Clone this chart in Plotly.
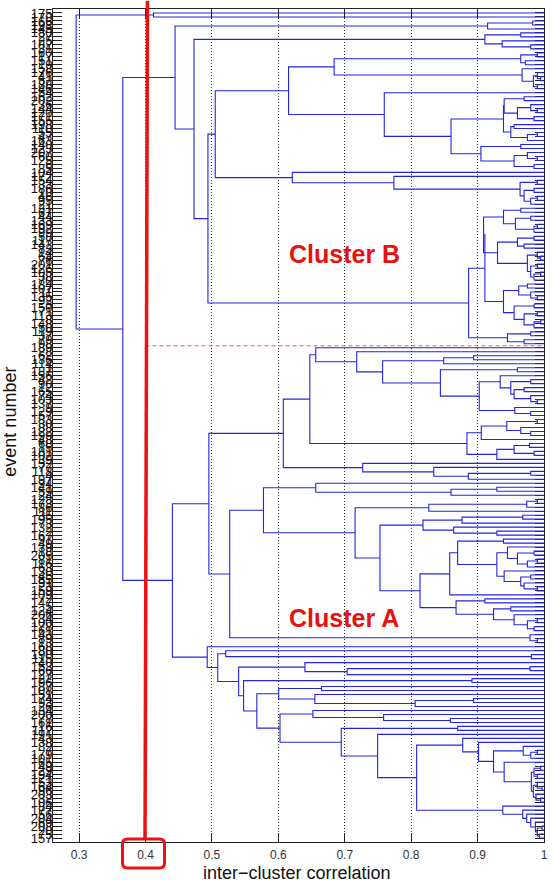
import plotly.graph_objects as go

# ---------------- data ----------------
# Dendrogram topology written as a compact Newick-like string:
#   'x' = one leaf (event), '(A,B)h' = merge of A and B at correlation h
TOP_PAIR = "(x,x)0.412"

B_A = "((x,x)0.983,x)0.915"
B_B = "((x,x)0.965,(x,(x,x)0.98)0.937)0.911"
B_C1 = "((x,x)0.99,(x,x)0.972)0.965"
B_C2 = "(x,((x,(x,x)0.995)0.99,(x,x)0.99)0.984)0.967"
B_D1 = "(((x,x)0.97,((x,(x,x)0.99)0.98,(x,x)0.985)0.96)0.94,((x,x)0.955,((x,x)0.99,x)0.975)0.95)0.939"
B_D2 = "((x,x)0.965,((x,(x,x)0.99)0.975,(x,x)0.985)0.955)0.905"
B_E1 = "((x,x)0.99,((x,x)0.985,((x,x)0.99,x)0.98)0.97)0.964"
R1 = "((x,x)0.965,((x,x)0.98,((x,x)0.99,x)0.985)0.957)0.939"
R2 = "(((x,x)0.985,(x,x)0.97)0.96,((x,(x,x)0.995)0.99,((x,x)0.99,((x,x)0.995,x)0.985)0.98)0.975)0.93"
Q2 = "(((x,x)0.975,(x,(x,x)0.99)0.98)0.962,((x,x)0.985,((x,x)0.99,((x,x)0.995,x)0.985)0.97)0.955)0.939"
P2 = "((x,x)0.98,(x,x)0.97)0.945"

A8 = "(x,((x,x)0.98,((x,x)0.97,(x,(x,x)0.99)0.98)0.955)0.95)0.934"
A3 = "(x,(x,x)0.98)0.956"
A5 = "((x,x)0.99,(x,(x,x)0.98)0.965)0.944"
A4 = "((x,x)0.978,(x,x)0.985)0.955"
A1A_BOT = "(x,(x,((x,x)0.98,x)0.886)0.834)0.727"
A_U1 = "(x,((x,x)0.929,x)0.86)0.6563"
A_V1 = "(((x,x)0.99,x)0.974,x)0.8266"
A_W1 = "(((x,x)0.968,x)0.8765,(x,(x,x)0.929)0.864)0.8178"
A12 = "((x,((x,x)0.985,((x,x)0.99,x)0.975)0.96)0.945,(x,((x,x)0.98,(x,(x,x)0.99)0.97)0.965)0.94)0.929"
A_Z2 = "((x,x)0.911,((x,x)0.95,(x,((x,x)0.99,(x,x)0.985)0.975)0.955)0.924)0.8676"
A_M1 = "(x,((x,x)0.979,x)0.7036)0.640"
A_N1 = "((x,x)0.665,(x,((x,x)0.894,x)0.806)0.655)0.6005"
A_O1 = "(x,(x,(x,x)0.859)0.7585)0.652"
A4B = "(x,((x,x)0.99,x)0.98)0.9687"
A10 = "(((x,x)0.995,(x,x)0.99)0.985,((x,(x,x)0.997)0.99,(x,(x,x)0.995)0.988)0.984)0.981"
A8B = "(x,(x,(x,(x,((x,x)0.997,(x,x)0.993)0.99)0.987)0.98)0.974)0.968"

# composition of the clusters
B_C = f"({B_C1},{B_C2})0.684"
B_D = f"(x,({B_D1},{B_D2})0.86)0.7595"
B_E = f"(x,(x,{B_E1})0.774)0.621"
B_TOP = f"(({B_C},{B_D})0.6154,{B_E})0.505"
B_P = f"((({R1},{R2})0.909,{Q2})0.911,{P2})0.8865"
CLUSTER_B = f"({B_A},({B_B},({B_TOP},{B_P})0.494)0.473)0.4445"

A_S1 = f"(x,(x,(((x,x)0.894,x)0.849,((x,x)0.96,({A8},{A3})0.9025)0.844)0.757)0.718)0.6563"
A_S2 = f"(({A5},x)0.9055,({A4},x)0.929)0.884"
A1A = f"(({A_S1},{A_S2})0.6474,{A1A_BOT})0.6075"
A_Z1 = f"(((x,x)0.939,{A12})0.87,x)0.858"
A_W2 = f"({A_Z1},{A_Z2})0.8133"
A_U2 = f"({A_V1},({A_W1},{A_W2})0.753)0.7156"
A1B = f"(({A_U1},{A_U2})0.5776,(x,(x,x)0.99)0.979)0.5268"
A1 = f"({A1A},{A1B})0.4954"
A_R = f"(x,(x,({A4B},(x,{A10})0.94)0.924)0.9015)0.8776"
A_S = f"(x,{A8B})0.938"
A_O2 = f"((x,x)0.87,(x,({A_R},{A_S})0.8082)0.7495)0.6947"
A_N = f"({A_N1},({A_O1},{A_O2})0.6025)0.5676"
A_M2 = f"((x,x)0.8915,{A_N})0.5477"
A2 = f"(x,((x,(x,x)0.981)0.5208,({A_M1},{A_M2})0.5402)0.5088)0.4929"
CLUSTER_A = f"({A1},{A2})0.4405"

TREE = f"({TOP_PAIR},({CLUSTER_B},{CLUSTER_A})0.3658)0.2955"

# event numbers of the leaves, top to bottom
LEAF_LABELS = [
    175, 170, 166, 193, 145, 180, 27, 25, 182, 31,
    160, 17, 151, 19, 158, 176, 41, 52, 188, 146,
    54, 162, 202, 36, 144, 120, 171, 155, 198, 110,
    55, 47, 163, 140, 123, 207, 60, 125, 6, 85,
    104, 172, 154, 33, 186, 10, 46, 95, 21, 131,
    67, 44, 133, 169, 192, 99, 58, 117, 142, 83,
    14, 64, 76, 201, 126, 105, 38, 70, 184, 107,
    11, 135, 92, 3, 150, 71, 113, 8, 148, 50,
    119, 37, 79, 98, 189, 28, 62, 136, 114, 1,
    187, 156, 42, 90, 12, 165, 74, 103, 137, 9,
    129, 57, 183, 30, 88, 122, 199, 48, 68, 15,
    181, 102, 39, 152, 77, 118, 4, 197, 94, 141,
    59, 24, 128, 173, 86, 111, 35, 195, 73, 132,
    2, 167, 97, 49, 139, 18, 205, 81, 116, 63,
    130, 45, 185, 91, 23, 159, 109, 72, 147, 5,
    124, 206, 34, 100, 178, 61, 143, 89, 13, 168,
    80, 190, 115, 40, 153, 66, 127, 22, 196, 87,
    108, 51, 174, 93, 26, 134, 200, 78, 161, 16,
    112, 191, 43, 138, 82, 7, 179, 101, 65, 149,
    29, 194, 121, 53, 164, 96, 203, 32, 106, 84,
    177, 56, 204, 69, 208, 20, 75, 157,
]

X_TICKS = [0.3, 0.4, 0.5, 0.6, 0.7, 0.8, 0.9, 1.0]
X_TICK_TEXT = ["0.3", "0.4", "0.5", "0.6", "0.7", "0.8", "0.9", "1"]
X_RANGE = [0.2607, 1.0]
THRESHOLD = 0.4


# ---------------- build dendrogram ----------------
def parse(s, i=0):
    if s[i] == "x":
        return None, i + 1
    left, i = parse(s, i + 1)
    right, i = parse(s, i + 1)
    i += 1
    j = i
    while j < len(s) and (s[j].isdigit() or s[j] == "."):
        j += 1
    return (float(s[i:j]), left, right), j


def count_leaves(s):
    return s.count("x")


root, _ = parse(TREE)
xs, ys = [], []
counter = [0]


def place(node):
    if node is None:
        counter[0] += 1
        return 1.0, counter[0]
    h, l, r = node
    xl, yl = place(l)
    xr, yr = place(r)
    xs.extend([xl, h, h, xr, None])
    ys.extend([yl, yl, yr, yr, None])
    return h, (yl + yr) / 2


place(root)
N = counter[0]
labels = [str(v) for v in LEAF_LABELS[:N]]
while len(labels) < N:
    labels.append("")

split_y = count_leaves(TOP_PAIR) + count_leaves(CLUSTER_B) + 0.5

fig = go.Figure()
fig.add_trace(go.Scatter(
    x=xs, y=ys, mode="lines",
    line=dict(color="#2424e4", width=1.1),
    hoverinfo="skip", showlegend=False,
))

FONT = "Liberation Sans, Arial, sans-serif"
thr_paper = (THRESHOLD - X_RANGE[0]) / (X_RANGE[1] - X_RANGE[0])

fig.update_layout(
    width=554, height=882,
    margin=dict(l=53, r=6, t=8, b=40),
    paper_bgcolor="white", plot_bgcolor="white",
    font=dict(family=FONT, color="#222"),
    xaxis=dict(
        range=X_RANGE, tickvals=X_TICKS, ticktext=X_TICK_TEXT,
        ticks="inside", ticklen=9, tickcolor="#222",
        showline=True, linecolor="#222", linewidth=1, mirror="ticks",
        showgrid=True, griddash="1px,2px", gridcolor="#333", gridwidth=1,
        zeroline=False, tickfont=dict(size=12, color="#333"),
        ticklabelstandoff=2,
    ),
    yaxis=dict(
        range=[N + 1, 0], tickvals=list(range(1, N + 1)), ticktext=labels,
        ticks="inside", ticklen=9, tickcolor="#222",
        showline=True, linecolor="#222", linewidth=1, mirror="ticks",
        showgrid=False, zeroline=False, layer="below traces",
        tickfont=dict(size=13, color="#111"),
        ticklabelstandoff=-3,
    ),
    shapes=[
        # dashed separator between clusters
        dict(type="line", xref="x", yref="y", x0=THRESHOLD, x1=1.0,
             y0=split_y, y1=split_y,
             line=dict(color="#f05a5a", width=1, dash="4px,3px")),
        # hand-drawn red threshold line at 0.4
        dict(type="line", xref="paper", yref="paper",
             x0=thr_paper - 0.001, y0=0.002, x1=thr_paper + 0.004, y1=1.0096,
             line=dict(color="#ee1111", width=3.5), layer="above"),
        # rounded box around the 0.4 tick label
        dict(type="path", xref="paper", yref="paper",
             xsizemode="pixel", ysizemode="pixel",
             xanchor=thr_paper, yanchor=0,
             path="M -18,3 L 14,3 Q 19,3 19,-2 L 19,-21 Q 19,-26 14,-26 "
                  "L -18,-26 Q -23,-26 -23,-21 L -23,-2 Q -23,3 -18,3 Z",
             line=dict(color="#ee1111", width=3)),
    ],
    annotations=[
        dict(text="Cluster B", xref="paper", yref="paper", x=0.5933, y=0.706,
             showarrow=False, xanchor="center", yanchor="middle",
             font=dict(family=FONT, size=25, color="#e81010", weight="bold")),
        dict(text="Cluster A", xref="paper", yref="paper", x=0.5933, y=0.2686,
             showarrow=False, xanchor="center", yanchor="middle",
             font=dict(family=FONT, size=25, color="#e81010", weight="bold")),
        dict(text="inter\u2212cluster correlation", xref="paper", yref="paper",
             x=0.497, y=-0.0372, showarrow=False, xanchor="center", yanchor="middle",
             font=dict(family=FONT, size=18, color="#111")),
        dict(text="event number", xref="paper", yref="paper",
             x=-0.0869, y=0.505, showarrow=False, textangle=-90,
             xanchor="center", yanchor="middle",
             font=dict(family=FONT, size=18, color="#111")),
    ],
)

fig.write_html(
    "out.html",
    config={"displayModeBar": False, "staticPlot": True},
    post_script="document.body.style.margin='0';document.body.style.overflow='hidden';",
)
